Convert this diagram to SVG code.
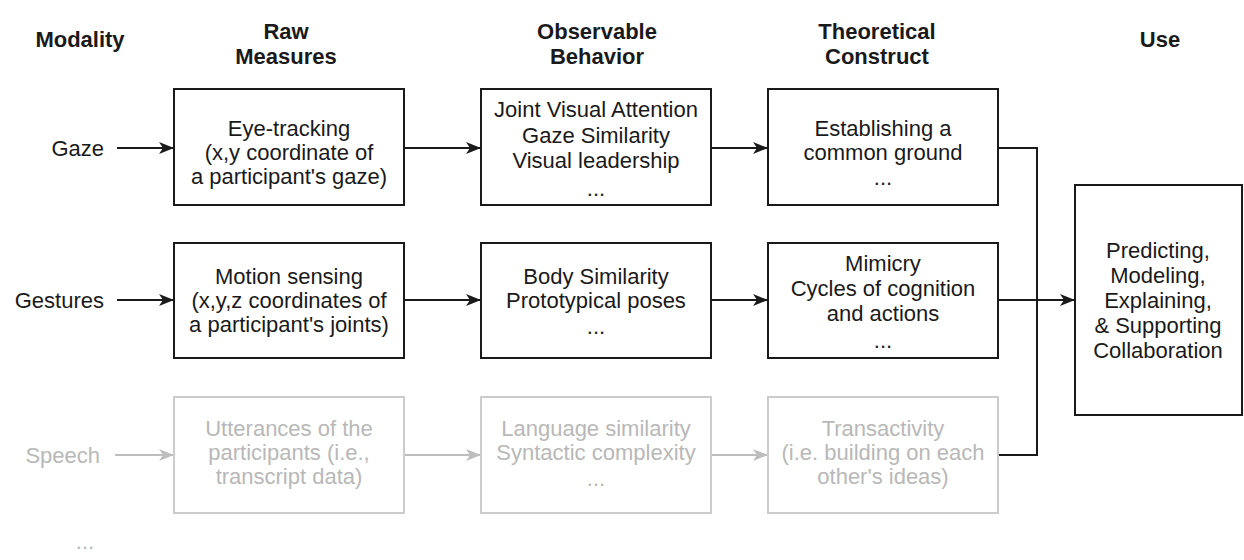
<svg xmlns="http://www.w3.org/2000/svg" width="1244" height="560" viewBox="0 0 1244 560">
<style>
text{font-family:"Liberation Sans",Arial,Helvetica,sans-serif;font-size:22px;fill:#1a1a1a;text-anchor:middle}
.h{font-weight:bold}
.lbl{text-anchor:end}
.g text{fill:#b8b8b8}
.box{fill:#fff;stroke:#1a1a1a;stroke-width:2}
.g .box{stroke:#cccccc}
.ln{fill:none;stroke:#1a1a1a;stroke-width:2}
.gl{fill:none;stroke:#bdbdbd;stroke-width:2}
</style>
<defs>
<marker id="a" markerUnits="userSpaceOnUse" markerWidth="16" markerHeight="14" refX="15" refY="7" orient="auto">
<path d="M0,1 L15,7 L0,13 L4,7 Z" fill="#1a1a1a"/>
</marker>
<marker id="ag" markerUnits="userSpaceOnUse" markerWidth="16" markerHeight="14" refX="15" refY="7" orient="auto">
<path d="M0,1 L15,7 L0,13 L4,7 Z" fill="#bdbdbd"/>
</marker>
</defs>
<rect width="1244" height="560" fill="#fff"/>
<g id="headers">
<text class="h" x="80" y="47">Modality</text>
<text class="h" x="286" y="39">Raw</text>
<text class="h" x="286" y="64">Measures</text>
<text class="h" x="597" y="39">Observable</text>
<text class="h" x="597" y="64">Behavior</text>
<text class="h" x="877" y="39">Theoretical</text>
<text class="h" x="877" y="64">Construct</text>
<text class="h" x="1160" y="47">Use</text>
</g>
<g id="connectors">
<line class="ln" x1="117" y1="148" x2="174" y2="148" marker-end="url(#a)"/>
<line class="ln" x1="404" y1="148" x2="481" y2="148" marker-end="url(#a)"/>
<line class="ln" x1="711" y1="148" x2="768" y2="148" marker-end="url(#a)"/>
<line class="ln" x1="117" y1="300" x2="174" y2="300" marker-end="url(#a)"/>
<line class="ln" x1="404" y1="300" x2="481" y2="300" marker-end="url(#a)"/>
<line class="ln" x1="711" y1="300" x2="768" y2="300" marker-end="url(#a)"/>
<line class="gl" x1="115" y1="455" x2="174" y2="455" marker-end="url(#ag)"/>
<line class="gl" x1="404" y1="455" x2="481" y2="455" marker-end="url(#ag)"/>
<line class="gl" x1="711" y1="455" x2="768" y2="455" marker-end="url(#ag)"/>
<polyline class="ln" points="998,148 1037,148 1037,455 998,455"/>
<line class="ln" x1="998" y1="300" x2="1075" y2="300" marker-end="url(#a)"/>
</g>
<g id="gaze">
<text class="lbl" x="104" y="156">Gaze</text>
</g>
<g id="gestures">
<text class="lbl" x="104" y="308">Gestures</text>
</g>
<g id="speech" class="g">
<text class="lbl" x="100" y="463">Speech</text>
</g>
<g id="more" class="g">
<text x="85" y="549">...</text>
</g>
<g id="eye-tracking">
<rect class="box" x="174" y="89" width="230" height="116"/>
<text x="289" y="136">Eye-tracking</text>
<text x="289" y="160">(x,y coordinate of</text>
<text x="289" y="184">a participant's gaze)</text>
</g>
<g id="gaze-behavior">
<rect class="box" x="481" y="89" width="230" height="116"/>
<text x="596" y="117">Joint Visual Attention</text>
<text x="596" y="143">Gaze Similarity</text>
<text x="596" y="168">Visual leadership</text>
<text x="596" y="196">...</text>
</g>
<g id="common-ground">
<rect class="box" x="768" y="89" width="230" height="116"/>
<text x="883" y="136">Establishing a</text>
<text x="883" y="160">common ground</text>
<text x="883" y="185">...</text>
</g>
<g id="motion-sensing">
<rect class="box" x="174" y="243" width="230" height="115"/>
<text x="289" y="284">Motion sensing</text>
<text x="289" y="308">(x,y,z coordinates of</text>
<text x="289" y="332">a participant's joints)</text>
</g>
<g id="body-behavior">
<rect class="box" x="481" y="243" width="230" height="115"/>
<text x="596" y="284">Body Similarity</text>
<text x="596" y="308">Prototypical poses</text>
<text x="596" y="334">...</text>
</g>
<g id="mimicry">
<rect class="box" x="768" y="243" width="230" height="115"/>
<text x="883" y="271">Mimicry</text>
<text x="883" y="296">Cycles of cognition</text>
<text x="883" y="321">and actions</text>
<text x="883" y="348">...</text>
</g>
<g id="utterances" class="g">
<rect class="box" x="174" y="397" width="230" height="116"/>
<text x="289" y="436">Utterances of the</text>
<text x="289" y="460">participants (i.e.,</text>
<text x="289" y="484">transcript data)</text>
</g>
<g id="language-behavior" class="g">
<rect class="box" x="481" y="397" width="230" height="116"/>
<text x="596" y="436">Language similarity</text>
<text x="596" y="460">Syntactic complexity</text>
<text x="596" y="486">...</text>
</g>
<g id="transactivity" class="g">
<rect class="box" x="768" y="397" width="230" height="116"/>
<text x="883" y="436">Transactivity</text>
<text x="883" y="460">(i.e. building on each</text>
<text x="883" y="484">other's ideas)</text>
</g>
<g id="use">
<rect class="box" x="1075" y="185" width="167" height="230"/>
<text x="1158" y="258">Predicting,</text>
<text x="1158" y="283">Modeling,</text>
<text x="1158" y="308">Explaining,</text>
<text x="1158" y="333">&amp; Supporting</text>
<text x="1158" y="358">Collaboration</text>
</g>
</svg>
